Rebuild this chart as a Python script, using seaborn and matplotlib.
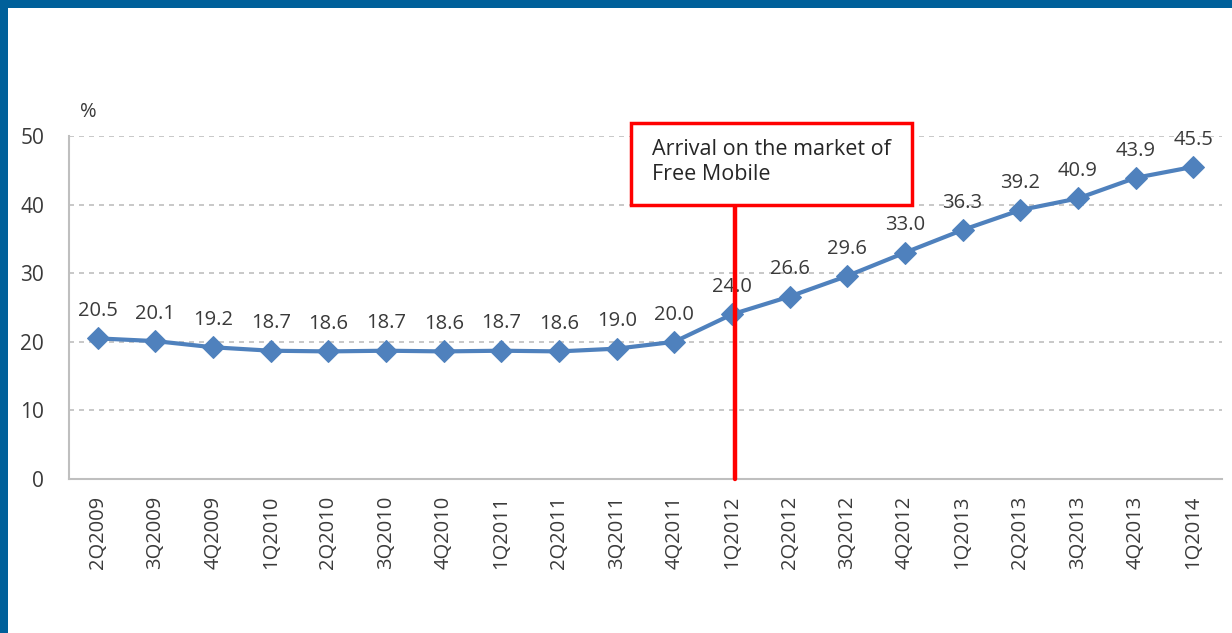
import matplotlib
matplotlib.use("Agg")
import matplotlib.pyplot as plt
import seaborn as sns
import pandas as pd
import numpy as np
from matplotlib.patches import Rectangle
from matplotlib.ticker import FixedLocator

quarters = ["2Q2009", "3Q2009", "4Q2009", "1Q2010", "2Q2010", "3Q2010", "4Q2010",
            "1Q2011", "2Q2011", "3Q2011", "4Q2011", "1Q2012", "2Q2012", "3Q2012",
            "4Q2012", "1Q2013", "2Q2013", "3Q2013", "4Q2013", "1Q2014"]
share = [20.5, 20.1, 19.2, 18.7, 18.6, 18.7, 18.6, 18.7, 18.6, 19.0, 20.0,
         24.0, 26.6, 29.6, 33.0, 36.3, 39.2, 40.9, 43.9, 45.5]
yticks = [0, 10, 20, 30, 40, 50]
annotation = "Arrival on the market of\nFree Mobile"
event_quarter = "1Q2012"

sns.set_style("white")
plt.rcParams['font.family'] = ['Open Sans', 'DejaVu Sans']

df = pd.DataFrame({"pos": np.arange(len(quarters)), "quarter": quarters, "share": share})

W, H = 1232, 633
fig = plt.figure(figsize=(W / 100, H / 100), dpi=100)
ax = fig.add_axes([69 / W, (H - 479) / H, (1222 - 69) / W, (479 - 136) / H])

blue = "#4F81BD"
txt = "#3A3A3A"
grid_c = "#BFBFBF"

for y in yticks[1:]:
    ax.axhline(y, color=grid_c, lw=1.2, ls=(0, (3, 3)), zorder=0)

sns.lineplot(data=df, x="pos", y="share", ax=ax, color=blue, lw=3,
             marker="D", markersize=11.5, markeredgecolor=blue, zorder=3)

for p, v in zip(df["pos"], df["share"]):
    ax.annotate(f"{v:.1f}", (p, v), xytext=(0, 16), textcoords="offset points",
                ha="center", va="baseline", fontsize=14.5, color=txt, zorder=4)

ax.set_xlim(-0.5, len(quarters) - 0.5)
ax.set_ylim(0, 50)
ax.set_xticks(df["pos"])
ax.set_xticklabels(quarters, rotation=90, fontsize=14.5, color=txt)
ax.xaxis.set_minor_locator(FixedLocator(np.arange(-0.5, len(quarters), 1)))
ax.tick_params(axis="x", which="major", length=0, pad=12)
ax.tick_params(axis="x", which="minor", length=6, width=1.2, color=grid_c, direction="out")
ax.set_yticks(yticks)
ax.set_yticklabels([str(t) for t in yticks], fontsize=15, color=txt)
ax.tick_params(axis="y", length=6, width=1.2, color=grid_c, direction="out", pad=12)
ax.set_xlabel("")
ax.set_ylabel("")
for s in ["top", "right"]:
    ax.spines[s].set_visible(False)
for s in ["left", "bottom"]:
    ax.spines[s].set_color(grid_c)
    ax.spines[s].set_linewidth(1.5)

# percent label
fig.text(80 / W, (H - 112) / H, "%", fontsize=14.5, color=txt, va="center", ha="left")

# event line and box
ev = quarters.index(event_quarter) + 0.05
ax.plot([ev, ev], [0, 50 * (479 - 205) / (479 - 136)], color="#FF0000", lw=3.2,
        zorder=5, clip_on=False)
bx0, bx1 = 631 / W, 912 / W
by0, by1 = (H - 205) / H, (H - 123) / H
fig.patches.append(Rectangle((bx0, by0), bx1 - bx0, by1 - by0, transform=fig.transFigure,
                             facecolor="white", edgecolor="#FF0000", lw=2.5, zorder=6))
fig.text(652 / W, (H - 162) / H, annotation, fontsize=15.5, color="#262626",
         va="center", ha="left", linespacing=1.25, zorder=7)

# blue frame
fig.patches.append(Rectangle((0, (H - 8) / H), 1, 8 / H, transform=fig.transFigure,
                             facecolor="#00609A", edgecolor="none", zorder=10))
fig.patches.append(Rectangle((0, 0), 8 / W, 1, transform=fig.transFigure,
                             facecolor="#00609A", edgecolor="none", zorder=10))

fig.savefig("out.png", dpi=100)
